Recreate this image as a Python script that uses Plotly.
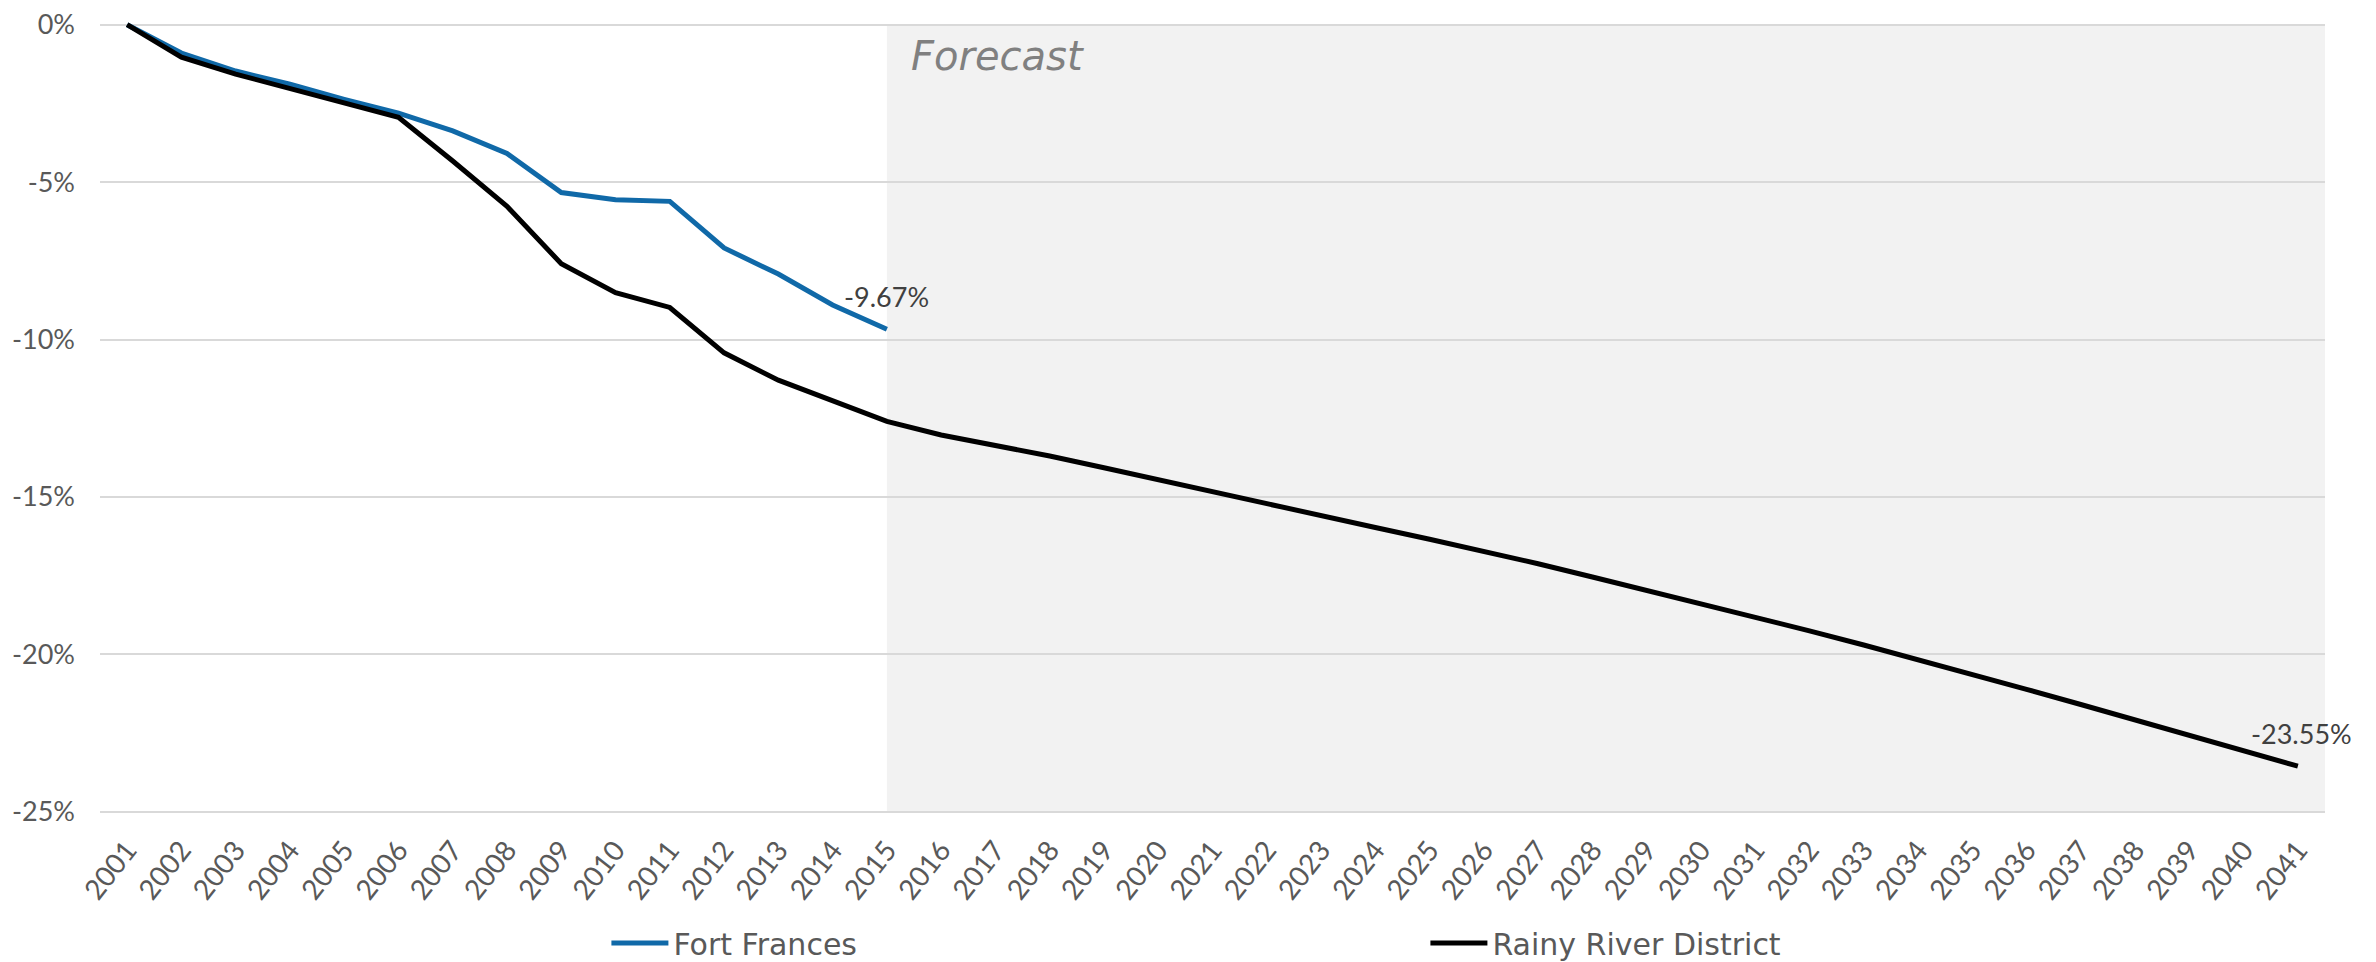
import plotly.graph_objects as go

years = ["2001", "2002", "2003", "2004", "2005", "2006", "2007", "2008", "2009", "2010",
         "2011", "2012", "2013", "2014", "2015", "2016", "2017", "2018", "2019", "2020",
         "2021", "2022", "2023", "2024", "2025", "2026", "2027", "2028", "2029", "2030",
         "2031", "2032", "2033", "2034", "2035", "2036", "2037", "2038", "2039", "2040",
         "2041"]

fort_frances_years = years[:15]
fort_frances = [0.0, -0.90, -1.47, -1.89, -2.37, -2.81, -3.37, -4.09, -5.33, -5.56,
                -5.61, -7.09, -7.92, -8.90, -9.67]

rainy_river = [0.0, -1.03, -1.57, -2.03, -2.47, -2.94, -4.33, -5.77, -7.59, -8.51,
               -8.98, -10.42, -11.29, -11.96, -12.60, -13.03, -13.36, -13.70, -14.07, -14.45,
               -14.86, -15.25, -15.62, -15.97, -16.34, -16.72, -17.12, -17.54, -17.96, -18.38,
               -18.80, -19.25, -19.70, -20.16, -20.63, -21.11, -21.59, -22.08, -22.57, -23.06,
               -23.55]

y_ticks = [0, -5, -10, -15, -20, -25]
y_tick_labels = ["0%", "-5%", "-10%", "-15%", "-20%", "-25%"]

FONT = "Lato"
WIDE_FONT = "DejaVu Sans"
TICK_COLOR = "#595959"

forecast_start = fort_frances_years.index("2015")
last_idx = len(years) - 1

fig = go.Figure()

fig.add_trace(go.Scatter(
    x=fort_frances_years, y=fort_frances, mode="lines", name="Fort Frances",
    line=dict(color="#1069a8", width=5),
))
fig.add_trace(go.Scatter(
    x=years, y=rainy_river, mode="lines", name="Rainy River District",
    line=dict(color="#000000", width=5),
))

# Forecast shaded region
fig.add_shape(type="rect", xref="x", yref="y", x0=forecast_start, x1=last_idx + 0.5,
              y0=-25, y1=0, fillcolor="#f2f2f2", line=dict(width=0), layer="below")

fig.add_annotation(x=forecast_start, y=0, xref="x", yref="y", text="<i>Forecast</i>",
                   showarrow=False, xanchor="left", yanchor="top", xshift=22, yshift=-6,
                   font=dict(family=WIDE_FONT, size=40, color="#808080"))

fig.add_annotation(x=len(fort_frances) - 1, y=fort_frances[-1], xref="x", yref="y",
                   text=f"{fort_frances[-1]:.2f}%", showarrow=False,
                   xanchor="center", yanchor="bottom", yshift=14,
                   font=dict(family=FONT, size=27, color="#404040"))
fig.add_annotation(x=last_idx, y=rainy_river[-1], xref="x", yref="y",
                   text=f"{rainy_river[-1]:.2f}%", showarrow=False,
                   xanchor="center", yanchor="bottom", yshift=14, xshift=4,
                   font=dict(family=FONT, size=27, color="#404040"))

fig.update_layout(
    width=2376, height=962,
    margin=dict(l=92, r=59, t=12, b=155, pad=0, autoexpand=False),
    paper_bgcolor="white", plot_bgcolor="white",
    font=dict(family=FONT, color=TICK_COLOR),
    showlegend=True,
    legend=dict(orientation="h", x=0.2276, y=0.028, xref="paper", yref="container",
                xanchor="left", yanchor="middle",
                font=dict(family=WIDE_FONT, size=30, color=TICK_COLOR),
                itemwidth=57, entrywidth=747, entrywidthmode="pixels",
                bgcolor="rgba(0,0,0,0)"),
    xaxis=dict(type="category", categoryorder="array", categoryarray=years,
               range=[-0.5, 40.5], showgrid=False, zeroline=False, showline=False,
               tickangle=-52, tickfont=dict(family=FONT, size=28, color=TICK_COLOR),
               ticks="", ticklabelstandoff=12, automargin=False),
    yaxis=dict(range=[-25.1, 0.15], tickvals=y_ticks, ticktext=y_tick_labels,
               showgrid=True, gridcolor="#d9d9d9", gridwidth=2, zeroline=False,
               showline=False, ticks="", ticklabelstandoff=24, automargin=False,
               ticklabeloverflow="allow",
               tickfont=dict(family=FONT, size=27, color=TICK_COLOR)),
)

fig.write_html("out.html")
